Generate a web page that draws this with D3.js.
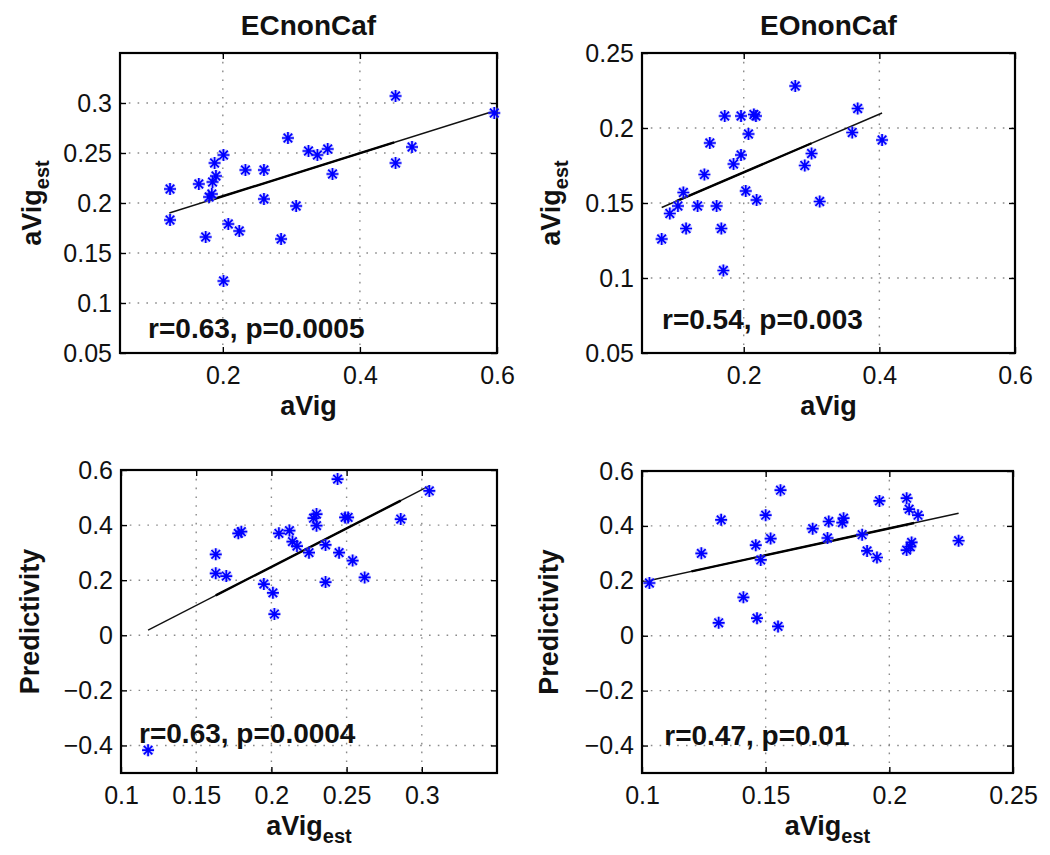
<!DOCTYPE html>
<html><head><meta charset="utf-8">
<script src="https://cdn.jsdelivr.net/npm/d3@7"></script>
<style>body{margin:0;background:#fff} svg{display:block;font-family:"Liberation Sans",Arial,sans-serif}</style>
</head><body><svg id="c" width="1050" height="855"></svg>
<script>
// ---------- data ----------
const titles = ["ECnonCaf", "EOnonCaf"];
const annotations = ["r=0.63, p=0.0005", "r=0.54, p=0.003", "r=0.63, p=0.0004", "r=0.47, p=0.01"];

// Panel A: EC, aVig vs aVig_est
const ecAvig    = [0.123,0.123,0.165,0.175,0.180,0.184,0.185,0.190,0.188,0.201,0.201,0.208,0.224,0.233,0.260,0.260,0.285,0.295,0.307,0.325,0.338,0.353,0.360,0.452,0.452,0.476,0.596];
const ecAvigEst = [0.214,0.183,0.219,0.166,0.206,0.209,0.221,0.227,0.240,0.248,0.122,0.179,0.172,0.233,0.233,0.204,0.164,0.265,0.197,0.252,0.248,0.254,0.229,0.307,0.240,0.256,0.290];
const ecFitX = [0.122, 0.596], ecFitY = [0.190, 0.292], ecFitBold = [0.18, 0.45];

// Panel B: EO, aVig vs aVig_est
const eoAvig    = [0.079,0.091,0.103,0.111,0.115,0.132,0.142,0.150,0.160,0.167,0.170,0.172,0.185,0.196,0.196,0.203,0.207,0.215,0.218,0.219,0.276,0.290,0.300,0.312,0.360,0.368,0.404];
const eoAvigEst = [0.126,0.143,0.148,0.157,0.133,0.148,0.169,0.190,0.148,0.133,0.105,0.208,0.176,0.182,0.208,0.158,0.196,0.209,0.208,0.152,0.228,0.175,0.183,0.151,0.197,0.213,0.192];
const eoFitX = [0.079, 0.404], eoFitY = [0.147, 0.210], eoFitBold = [0.10, 0.30];

// Panel C: EC, aVig_est vs Predictivity
const ecEst2  = [0.118,0.163,0.163,0.170,0.178,0.180,0.195,0.201,0.202,0.205,0.212,0.214,0.217,0.225,0.228,0.230,0.230,0.236,0.236,0.244,0.245,0.249,0.251,0.254,0.262,0.286,0.305];
const ecPred  = [-0.417,0.294,0.225,0.215,0.370,0.376,0.186,0.154,0.077,0.370,0.380,0.340,0.324,0.300,0.425,0.440,0.398,0.328,0.193,0.567,0.300,0.428,0.428,0.271,0.210,0.422,0.524];
const ecFit2X = [0.118, 0.305], ecFit2Y = [0.019, 0.542], ecFit2Bold = [0.163, 0.286];

// Panel D: EO, aVig_est vs Predictivity
const eoEst2  = [0.103,0.124,0.131,0.132,0.141,0.146,0.1465,0.148,0.150,0.152,0.155,0.156,0.169,0.175,0.1755,0.181,0.1815,0.189,0.191,0.195,0.196,0.207,0.207,0.208,0.2085,0.209,0.2116,0.228];
const eoPred  = [0.192,0.300,0.047,0.422,0.140,0.330,0.064,0.276,0.439,0.354,0.034,0.530,0.390,0.356,0.416,0.412,0.428,0.368,0.309,0.285,0.491,0.501,0.312,0.461,0.324,0.340,0.439,0.346];
const eoFit2X = [0.103, 0.228], eoFit2Y = [0.201, 0.446], eoFit2Bold = [0.12, 0.21];

// tick values
const ticksAvig = [0.2, 0.4, 0.6];
const ticksEstA = [0.05, 0.1, 0.15, 0.2, 0.25, 0.3];
const ticksEstB = [0.05, 0.1, 0.15, 0.2, 0.25];
const ticksEstC = [0.1, 0.15, 0.2, 0.25, 0.3];
const ticksEstD = [0.1, 0.15, 0.2, 0.25];
const ticksPred = [-0.4, -0.2, 0, 0.2, 0.4, 0.6];

// ---------- layout ----------
const panels = [
  {xs: ecAvig, ys: ecAvigEst, fx: ecFitX, fy: ecFitY, fb: ecFitBold, xDom: [0.05, 0.6], yDom: [0.05, 0.35],
   xT: ticksAvig, yT: ticksEstA, box: [120, 497, 53, 353], title: titles[0], xl: ["aVig", null], yl: ["aVig", "est"],
   ann: annotations[0], annPos: [0.091, 0.065], ylx: 41},
  {xs: eoAvig, ys: eoAvigEst, fx: eoFitX, fy: eoFitY, fb: eoFitBold, xDom: [0.05, 0.6], yDom: [0.05, 0.25],
   xT: ticksAvig, yT: ticksEstB, box: [642, 1015, 53, 353], title: titles[1], xl: ["aVig", null], yl: ["aVig", "est"],
   ann: annotations[1], annPos: [0.0795, 0.066], ylx: 560},
  {xs: ecEst2, ys: ecPred, fx: ecFit2X, fy: ecFit2Y, fb: ecFit2Bold, xDom: [0.1, 0.35], yDom: [-0.5, 0.6],
   xT: ticksEstC, yT: ticksPred, box: [121, 497, 470, 773], title: null, xl: ["aVig", "est"], yl: ["Predictivity", null],
   ann: annotations[2], annPos: [0.112, -0.391], ylx: 39},
  {xs: eoEst2, ys: eoPred, fx: eoFit2X, fy: eoFit2Y, fb: eoFit2Bold, xDom: [0.1, 0.25], yDom: [-0.5, 0.6],
   xT: ticksEstD, yT: ticksPred, box: [642, 1013, 471, 773], title: null, xl: ["aVig", "est"], yl: ["Predictivity", null],
   ann: annotations[3], annPos: [0.109, -0.398], ylx: 558}
];

const svg = d3.select("#c");
const fmt = t => String(+t.toFixed(2)).replace("-", "\u2212");
const star = "M-6,0H6M0,-6V6M-4.3,-4.3L4.3,4.3M-4.3,4.3L4.3,-4.3";

function label(sel, main, sub, size) {
  sel.append("tspan").text(main);
  if (sub) sel.append("tspan").attr("font-size", size * 0.74).attr("dy", size * 0.3).text(sub);
}

panels.forEach(p => {
  const [x0, x1, y0, y1] = p.box;
  const x = d3.scaleLinear().domain(p.xDom).range([x0, x1]);
  const y = d3.scaleLinear().domain(p.yDom).range([y1, y0]);
  const g = svg.append("g");

  // grid
  g.append("g").selectAll("line").data(p.xT.filter(t => x(t) > x0 + 2 && x(t) < x1 - 2)).join("line")
    .attr("x1", d => x(d)).attr("x2", d => x(d)).attr("y1", y0).attr("y2", y1)
    .attr("stroke", "#8a8a8a").attr("stroke-width", 1.4).attr("stroke-dasharray", "1.6,7.2");
  g.append("g").selectAll("line").data(p.yT.filter(t => y(t) > y0 + 2 && y(t) < y1 - 2)).join("line")
    .attr("y1", d => y(d)).attr("y2", d => y(d)).attr("x1", x0).attr("x2", x1)
    .attr("stroke", "#8a8a8a").attr("stroke-width", 1.4).attr("stroke-dasharray", "1.6,7.2");

  // axes
  const ax = (gen, tr, withLabels, pad) => {
    const a = g.append("g").attr("transform", tr)
      .call(gen.tickSize(-6).tickPadding(pad).tickFormat(withLabels ? fmt : () => ""));
    a.select(".domain").remove();
    a.selectAll(".tick line").attr("stroke", "#000").attr("stroke-width", 1.4);
    a.selectAll("text").attr("font-size", 25).attr("fill", "#111").attr("font-family", '"Liberation Sans",Arial,sans-serif');
    if (!withLabels) a.selectAll("text").remove();
    return a;
  };
  ax(d3.axisBottom(x).tickValues(p.xT), `translate(0,${y1})`, true, 13);
  ax(d3.axisTop(x).tickValues(p.xT), `translate(0,${y0})`, false, 0);
  ax(d3.axisLeft(y).tickValues(p.yT), `translate(${x0},0)`, true, 8);
  ax(d3.axisRight(y).tickValues(p.yT), `translate(${x1},0)`, false, 0);

  // box
  g.append("rect").attr("x", x0).attr("y", y0).attr("width", x1 - x0).attr("height", y1 - y0)
    .attr("fill", "none").attr("stroke", "#000").attr("stroke-width", 2.2);

  // fit line
  const lineY = v => p.fy[0] + (p.fy[1] - p.fy[0]) * (v - p.fx[0]) / (p.fx[1] - p.fx[0]);
  g.append("line").attr("x1", x(p.fx[0])).attr("y1", y(p.fy[0])).attr("x2", x(p.fx[1])).attr("y2", y(p.fy[1]))
    .attr("stroke", "#111").attr("stroke-width", 1.4);
  g.append("line").attr("x1", x(p.fb[0])).attr("y1", y(lineY(p.fb[0]))).attr("x2", x(p.fb[1])).attr("y2", y(lineY(p.fb[1])))
    .attr("stroke", "#000").attr("stroke-width", 2.4);

  // points
  const pts = p.xs.map((v, i) => [v, p.ys[i]]);
  g.append("g").selectAll("path").data(pts).join("path")
    .attr("transform", d => `translate(${x(d[0])},${y(d[1])})`).attr("d", star)
    .attr("stroke", "#8c8cff").attr("stroke-width", 4).attr("stroke-opacity", 0.45).attr("fill", "none");
  g.append("g").selectAll("path").data(pts).join("path")
    .attr("transform", d => `translate(${x(d[0])},${y(d[1])})`).attr("d", star)
    .attr("stroke", "#0000ff").attr("stroke-width", 1.7).attr("fill", "none");

  // annotation
  g.append("text").attr("x", x(p.annPos[0])).attr("y", y(p.annPos[1]))
    .attr("font-size", 28).attr("font-weight", "bold").attr("fill", "#111").text(p.ann);

  // title
  if (p.title) g.append("text").attr("x", (x0 + x1) / 2).attr("y", 35).attr("text-anchor", "middle")
    .attr("font-size", 28).attr("font-weight", "bold").attr("fill", "#111").text(p.title);

  // x label
  g.append("text").attr("x", (x0 + x1) / 2).attr("y", y1 + 62).attr("text-anchor", "middle")
    .attr("font-size", 27).attr("font-weight", "bold").attr("fill", "#111")
    .call(s => label(s, p.xl[0], p.xl[1], 27));

  // y label
  g.append("text").attr("transform", `translate(${p.ylx},${(y0 + y1) / 2}) rotate(-90)`).attr("text-anchor", "middle")
    .attr("font-size", 27).attr("font-weight", "bold").attr("fill", "#111")
    .call(s => label(s, p.yl[0], p.yl[1], 27));
});
</script></body></html>
